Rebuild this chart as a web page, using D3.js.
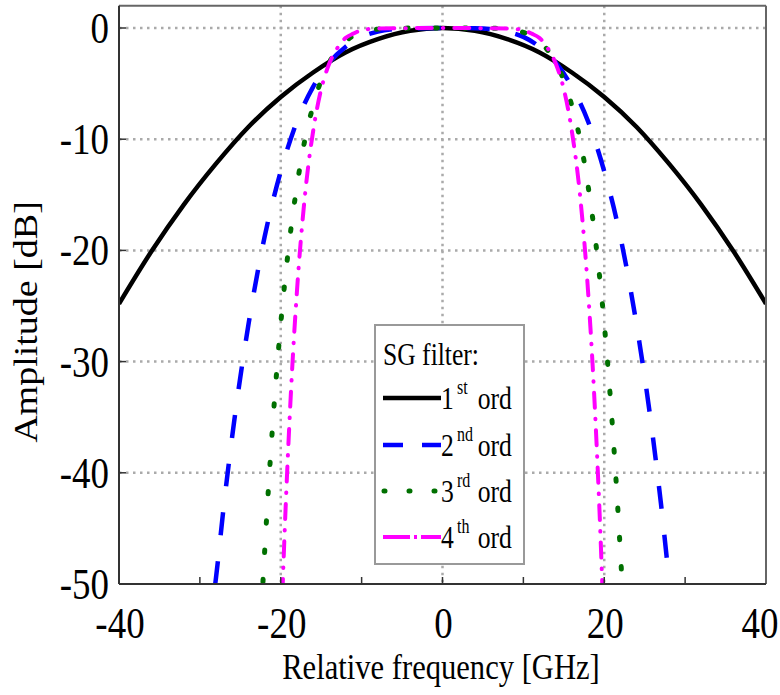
<!DOCTYPE html>
<html>
<head>
<meta charset="utf-8">
<script src="https://cdn.jsdelivr.net/npm/d3@7"></script>
<style>
  html, body { margin: 0; padding: 0; background: #fff; }
  svg { display: block; }
  text { font-family: "Liberation Serif", "Times New Roman", serif; fill: #000; }
</style>
</head>
<body>
<svg id="chart" width="780" height="695"></svg>
<script>
// ---- data ----
const xTicks = [-40, -20, 0, 20, 40];
const xMinorTicks = [-30, -20, -10, 0, 10, 20, 30];
const yTicks = [0, -10, -20, -30, -40, -50];
const xGrid = [-20, 0, 20];
const yGrid = [0, -10, -20, -30, -40];

const seriesNames = ["1st", "2nd", "3rd", "4th"];

const freq1 = [-40, -36, -32, -28, -24, -20, -16, -12, -8, -4, 0, 4, 8, 12, 16, 20, 24, 28, 32, 36, 40];
const amp1  = [-24.8, -20.1, -15.9, -12.2, -8.9, -6.2, -4.0, -2.2, -1.0, -0.25, 0, -0.25, -1.0, -2.2, -4.0, -6.2, -8.9, -12.2, -15.9, -20.1, -24.8];

const freq2 = [-28.1, -28, -27, -26, -24, -22, -20, -18, -16, -14, -12, -10, -8, -6, -4, 0, 4, 6, 8, 10, 12, 14, 16, 18, 20, 22, 24, 26, 27, 28, 28.1];
const amp2  = [-50, -49.4, -42.7, -36.7, -26.7, -18.8, -12.9, -8.4, -5.3, -3.1, -1.7, -0.8, -0.33, -0.1, -0.02, 0, -0.02, -0.1, -0.33, -0.8, -1.7, -3.1, -5.3, -8.4, -12.9, -18.8, -26.7, -36.7, -42.7, -49.4, -50];

const freq3 = [-22.2, -22, -21, -20, -19, -18, -17, -16, -15, -14, -13, -12, -11, -10, -8, -6, 0, 6, 8, 10, 11, 12, 13, 14, 15, 16, 17, 18, 19, 20, 21, 22, 22.2];
const amp3  = [-49.8, -47.2, -35.7, -26.6, -19.6, -14.2, -10.0, -7.0, -4.7, -3.1, -2.0, -1.2, -0.7, -0.4, -0.1, -0.02, 0, -0.02, -0.1, -0.4, -0.7, -1.2, -2.0, -3.1, -4.7, -7.0, -10.0, -14.2, -19.6, -26.6, -35.7, -47.2, -49.8];

const freq4 = [-19.8, -19.5, -19, -18.5, -18, -17, -16, -15, -14, -13, -12, -11, -10, -8, 0, 8, 10, 11, 12, 13, 14, 15, 16, 17, 18, 18.5, 19, 19.5, 19.8];
const amp4  = [-50.9, -45.0, -36.6, -29.5, -23.7, -15.0, -9.3, -5.5, -3.2, -1.8, -0.9, -0.5, -0.2, -0.04, 0, -0.04, -0.2, -0.5, -0.9, -1.8, -3.2, -5.5, -9.3, -15.0, -23.7, -29.5, -36.6, -45.0, -50.9];

// ---- styles ----
const styles = [
  { color: "#000000", width: 4.5, dash: null, cap: "butt", legendDash: null },
  { color: "#0000ff", width: 4.5, dash: "23,26", cap: "butt", legendDash: "20,19" },
  { color: "#007000", width: 5, dash: "2.5,26.8", cap: "round", legendDash: "1,24" },
  { color: "#ff00ff", width: 4, dash: "15,11,0.5,11", cap: "round", legendDash: "27,4,3,4" }
];

const series = [
  { f: freq1, a: amp1 },
  { f: freq2, a: amp2 },
  { f: freq3, a: amp3 },
  { f: freq4, a: amp4 }
];

const svg = d3.select("#chart");
const x = d3.scaleLinear().domain([-40, 40]).range([119, 766]);
const y = d3.scaleLinear().domain([-50, 0]).range([584, 28]);
const yTop = y(2);
const SX = 0.84;

svg.append("rect").attr("width", 780).attr("height", 695).attr("fill", "#fff");

// grid
const grid = svg.append("g");
xGrid.forEach(v => grid.append("line")
  .attr("x1", x(v)).attr("x2", x(v)).attr("y1", yTop).attr("y2", y(-50))
  .attr("stroke", "#aaaaaa").attr("stroke-width", 2.5).attr("stroke-dasharray", "2.5,4.5"));
yGrid.forEach(v => grid.append("line")
  .attr("x1", x(-40)).attr("x2", x(40)).attr("y1", y(v)).attr("y2", y(v))
  .attr("stroke", "#aaaaaa").attr("stroke-width", 2.5).attr("stroke-dasharray", "2.5,4.5"));

// clip
svg.append("clipPath").attr("id", "plotclip").append("rect")
  .attr("x", x(-40)).attr("y", yTop).attr("width", x(40) - x(-40)).attr("height", y(-50) - yTop);

// curves
const line = d3.line().x(d => x(d[0])).y(d => y(d[1])).curve(d3.curveMonotoneX);
const curves = svg.append("g").attr("clip-path", "url(#plotclip)");
series.forEach((s, i) => {
  const pts = s.f.map((f, j) => [f, s.a[j]]);
  const st = styles[i];
  curves.append("path").datum(pts).attr("d", line)
    .attr("fill", "none").attr("stroke", st.color).attr("stroke-width", st.width)
    .attr("stroke-linecap", st.cap).attr("stroke-linejoin", "round")
    .attr("stroke-dasharray", st.dash);
});

// frame
svg.append("line").attr("x1", x(-40)).attr("x2", x(40)).attr("y1", yTop).attr("y2", yTop)
  .attr("stroke", "#666").attr("stroke-width", 2);
svg.append("line").attr("x1", x(40)).attr("x2", x(40)).attr("y1", yTop).attr("y2", y(-50))
  .attr("stroke", "#666").attr("stroke-width", 2);
svg.append("line").attr("x1", x(-40)).attr("x2", x(40)).attr("y1", y(-50)).attr("y2", y(-50))
  .attr("stroke", "#333").attr("stroke-width", 2);
svg.append("line").attr("x1", x(-40)).attr("x2", x(-40)).attr("y1", yTop).attr("y2", y(-50))
  .attr("stroke", "#333").attr("stroke-width", 2);

// ticks
xMinorTicks.forEach(v => svg.append("line")
  .attr("x1", x(v)).attr("x2", x(v)).attr("y1", y(-50)).attr("y2", y(-50) - 7)
  .attr("stroke", "#333").attr("stroke-width", 1.5));
yTicks.slice(0, 5).forEach(v => svg.append("line")
  .attr("x1", x(-40)).attr("x2", x(-40) + 7).attr("y1", y(v)).attr("y2", y(v))
  .attr("stroke", "#333").attr("stroke-width", 1.5));

function sText(px, py, str, size, anchor, sx) {
  const g = svg.append("g").attr("transform", `translate(${px},${py}) scale(${sx || SX},1)`);
  return g.append("text").attr("font-size", size).attr("text-anchor", anchor || "start").text(str);
}

// tick labels (the last one is kept inside the picture's right edge)
xTicks.forEach(v => sText(Math.min(x(v) + 1, 760), 638, String(v), 44, "middle"));
yTicks.forEach(v => sText(109, y(v) + 15, String(v), 44, "end"));

// axis titles
sText(441, 679, "Relative frequency [GHz]", 36, "middle", 0.85);
svg.append("g").attr("transform", "translate(37,322) scale(0.87,1) rotate(-90)")
  .append("text").attr("font-size", 38).attr("text-anchor", "middle").text("Amplitude [dB]");

// legend
const lg = svg.append("g");
lg.append("rect").attr("x", 375).attr("y", 325).attr("width", 149).attr("height", 239)
  .attr("fill", "#fff").attr("stroke", "#999").attr("stroke-width", 2);
sText(383, 365, "SG filter:", 32, "start", 0.8);
const rowY = [398, 445, 491, 537];
seriesNames.forEach((name, i) => {
  const st = styles[i];
  const ly = rowY[i];
  const x0 = i === 2 ? 384 : 383;
  lg.append("line").attr("x1", x0).attr("x2", 441).attr("y1", ly).attr("y2", ly)
    .attr("stroke", st.color).attr("stroke-width", st.width)
    .attr("stroke-linecap", i === 2 ? "round" : "butt")
    .attr("stroke-dasharray", st.legendDash);
  const num = name.slice(0, 1), sup = name.slice(1);
  const g = lg.append("g").attr("transform", `translate(441,${ly + 11}) scale(0.8,1)`);
  const t = g.append("text").attr("font-size", 32);
  t.append("tspan").attr("x", 0).text(num);
  t.append("tspan").attr("x", 20).attr("dy", -15).attr("font-size", 20).text(sup);
  t.append("tspan").attr("x", 46).attr("dy", 15).text("ord");
});
</script>
</body>
</html>
